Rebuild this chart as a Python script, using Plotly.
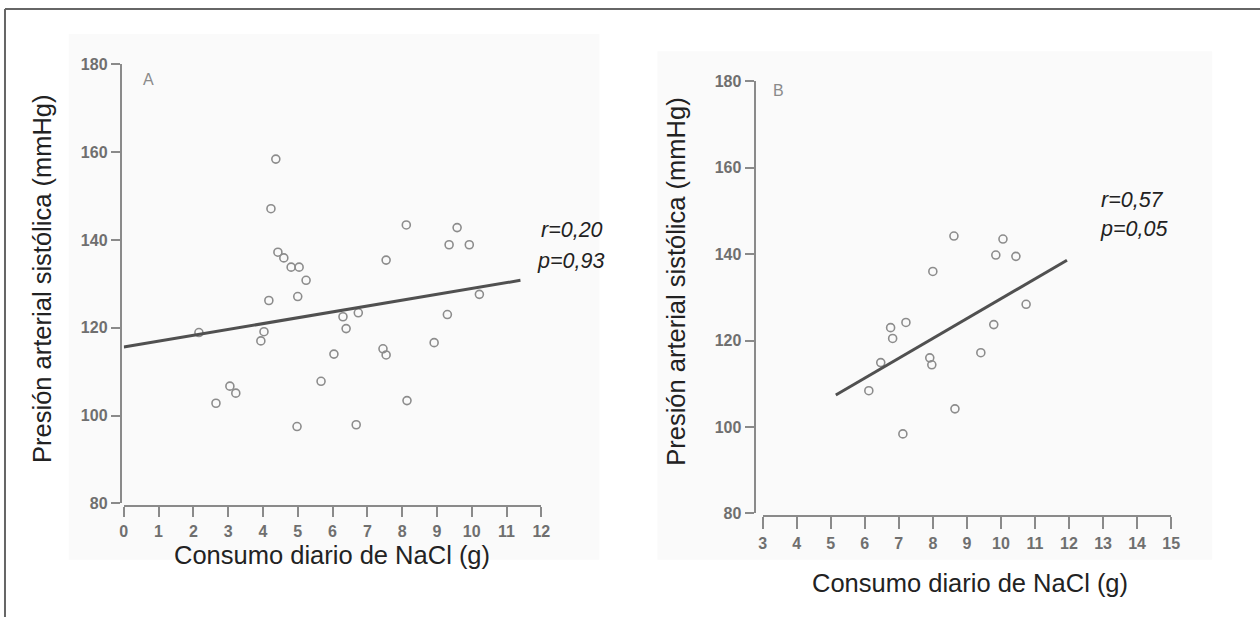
import plotly.graph_objects as go

# ---------------- data ----------------
# Panel A
a_x = [2.16, 2.65, 3.05, 3.22, 3.94, 4.03, 4.17, 4.23, 4.37, 4.43, 4.60, 4.81, 5.04,
       5.24, 5.00, 4.98, 5.67, 6.04, 6.30, 6.74, 6.39, 6.68, 7.45, 7.54, 7.54, 8.12,
       8.14, 8.92, 9.30, 9.35, 9.58, 9.93, 10.22]
a_y = [118.9, 102.8, 106.7, 105.1, 117.0, 119.1, 126.2, 147.1, 158.4, 137.2, 135.9, 133.8, 133.8,
       130.8, 127.1, 97.5, 107.8, 114.0, 122.5, 123.4, 119.8, 97.9, 115.2, 113.8, 135.4, 143.4,
       103.4, 116.6, 123.0, 138.9, 142.8, 138.9, 127.6]
a_fit_x = [0.0, 11.4]
a_fit_y = [115.6, 130.8]
a_stats = ["r=0,20", "p=0,93"]

# Panel B
b_x = [8.62, 10.06, 9.85, 10.44, 8.00, 10.74, 9.79, 6.76, 7.21, 6.82, 6.47, 7.91, 7.97,
       9.41, 6.12, 8.65, 7.12]
b_y = [144.2, 143.5, 139.8, 139.5, 136.0, 128.4, 123.7, 123.0, 124.2, 120.5, 114.9, 116.0, 114.4,
       117.2, 108.4, 104.2, 98.4]
b_fit_x = [5.15, 11.94]
b_fit_y = [107.4, 138.6]
b_stats = ["r=0,57", "p=0,05"]

a_xticks = list(range(0, 13))
b_xticks = list(range(3, 16))
y_ticks = [80, 100, 120, 140, 160, 180]

y_title = "Presión arterial sistólica (mmHg)"
x_title = "Consumo diario de NaCl (g)"

# ---------------- layout helpers ----------------
W, H = 1276, 638
# calibration between page pixels and the captured picture
SX, OX = 0.9885, 5.4
SY, OY = 0.9687, 9.0

def px(t):
    return ((t - OX) / SX) / W

def py(t):
    return 1 - ((t - OY) / SY) / H

FONT = "Liberation Sans, Arial, sans-serif"
AX_COL = "#8a8a8a"
TICK_FONT = dict(family=FONT, size=16, color="#6f6f6f", weight="bold")
MARK = dict(symbol="circle-open", size=8, color="#8c8c8c", line=dict(width=1.6, color="#8c8c8c"))

fig = go.Figure()

fig.add_trace(go.Scatter(x=a_x, y=a_y, mode="markers", marker=MARK, xaxis="x", yaxis="y",
                         showlegend=False, cliponaxis=False, hoverinfo="skip"))
fig.add_trace(go.Scatter(x=a_fit_x, y=a_fit_y, mode="lines", line=dict(color="#505050", width=3),
                         xaxis="x", yaxis="y", showlegend=False, cliponaxis=False, hoverinfo="skip"))
fig.add_trace(go.Scatter(x=b_x, y=b_y, mode="markers", marker=MARK, xaxis="x2", yaxis="y2",
                         showlegend=False, cliponaxis=False, hoverinfo="skip"))
fig.add_trace(go.Scatter(x=b_fit_x, y=b_fit_y, mode="lines", line=dict(color="#505050", width=3),
                         xaxis="x2", yaxis="y2", showlegend=False, cliponaxis=False, hoverinfo="skip"))

def xax(domain, rng, pos, ticks, ticklen):
    return dict(domain=domain, range=rng, anchor="free", position=pos,
                showline=True, linecolor=AX_COL, linewidth=2,
                ticks="outside", ticklen=ticklen, tickwidth=2, tickcolor=AX_COL,
                tickvals=ticks, tickfont=TICK_FONT, showgrid=False, zeroline=False,
                fixedrange=True)

def yax(domain, rng, pos):
    return dict(domain=domain, range=rng, anchor="free", position=pos,
                showline=True, linecolor=AX_COL, linewidth=2,
                ticks="outside", ticklen=9, tickwidth=2, tickcolor=AX_COL,
                tickvals=y_ticks, tickfont=TICK_FONT, showgrid=False, zeroline=False,
                fixedrange=True)

TITLE_FONT = dict(family=FONT, size=25.5, color="#222222")
STAT_FONT = dict(family=FONT, size=21.5, color="#222222", style="italic")
LETTER_FONT = dict(family=FONT, size=16, color="#8a8a8a")

def ann(text, x, y, font, xanchor="center", angle=0):
    return dict(text=text, x=px(x), y=py(y), xref="paper", yref="paper",
                xanchor=xanchor, yanchor="middle", textangle=angle,
                showarrow=False, font=font)

annotations = [
    ann(y_title, 44, 279, TITLE_FONT, angle=-90),
    ann(x_title, 333, 553, TITLE_FONT),
    ann(y_title, 677, 281, TITLE_FONT, angle=-90),
    ann(x_title, 970, 581, TITLE_FONT),
    ann("A", 150, 80, LETTER_FONT),
    ann("B", 779, 91, LETTER_FONT),
    ann(a_stats[0], 606, 230, STAT_FONT, xanchor="right"),
    ann(a_stats[1], 607, 261, STAT_FONT, xanchor="right"),
    ann(b_stats[0], 1166, 200, STAT_FONT, xanchor="right"),
    ann(b_stats[1], 1170, 229, STAT_FONT, xanchor="right"),
]

shapes = [
    # faint scanned panel backgrounds
    dict(type="rect", xref="paper", yref="paper", x0=px(70), x1=px(600), y0=py(558), y1=py(35),
         fillcolor="#fafafa", line=dict(width=0), layer="below"),
    dict(type="rect", xref="paper", yref="paper", x0=px(658), x1=px(1212), y0=py(558), y1=py(52),
         fillcolor="#fafafa", line=dict(width=0), layer="below"),
    # frame lines (top and left)
    dict(type="line", xref="paper", yref="paper", x0=1 / W, x1=1, y0=1 - 1 / H, y1=1 - 1 / H,
         line=dict(color="#666666", width=2)),
    dict(type="line", xref="paper", yref="paper", x0=1 / W, x1=1 / W, y0=1 - 1 / H, y1=0,
         line=dict(color="#666666", width=2)),
]

fig.update_layout(
    width=W, height=H,
    margin=dict(l=0, r=0, t=0, b=0),
    paper_bgcolor="white", plot_bgcolor="rgba(0,0,0,0)",
    xaxis=xax([px(125), px(542)], [0, 12], py(505), a_xticks, 10),
    yaxis=yax([py(502), py(65)], [80, 180], px(122)),
    xaxis2=xax([px(763), px(1171)], [3, 15], py(515), b_xticks, 12),
    yaxis2=yax([py(512), py(82)], [80, 180], px(755)),
    annotations=annotations,
    shapes=shapes,
    showlegend=False,
    hovermode=False,
)

fig.write_html(
    "out.html",
    config={"displayModeBar": False, "staticPlot": True},
    post_script="document.body.style.margin='0';document.body.style.padding='0';"
                "document.body.style.overflow='hidden';",
)
